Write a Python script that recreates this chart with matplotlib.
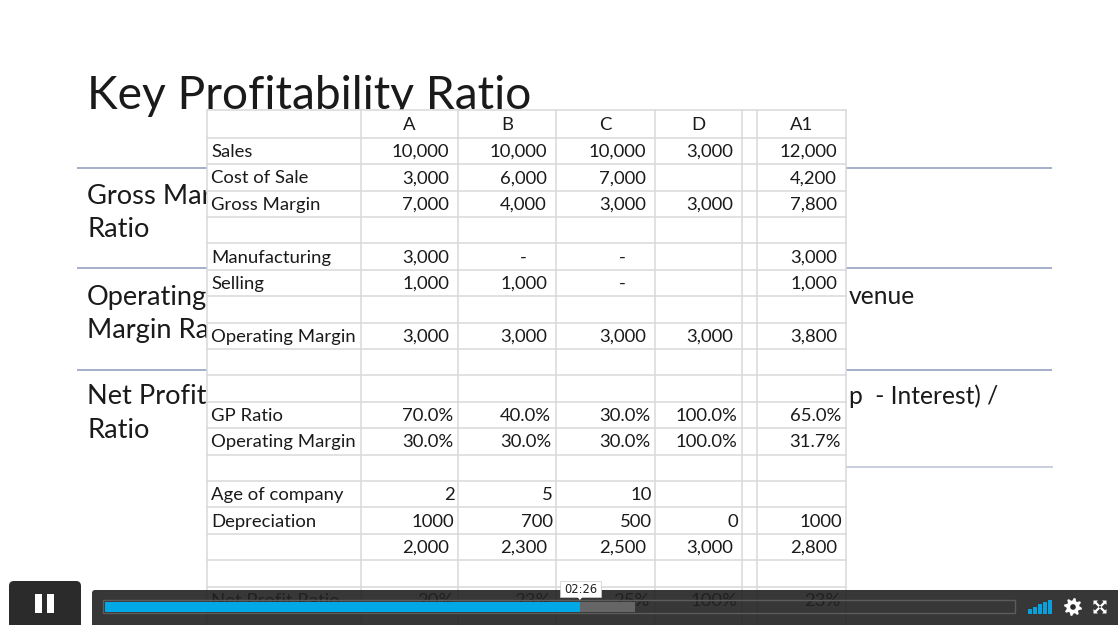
import numpy as np
import matplotlib
matplotlib.use("Agg")
import matplotlib.pyplot as plt
from matplotlib.patches import Rectangle, FancyBboxPatch, Polygon
from matplotlib.font_manager import FontProperties
from matplotlib.textpath import TextPath
from matplotlib.transforms import Bbox

# ---------------- data ----------------
title = "Key Profitability Ratio"
# visible parts of the slide text (the spreadsheet overlay hides the rest)
slide_left_text = [["Gross Mar", "Ratio"], ["Operating", "Margin Ra"], ["Net Profit", "Ratio"]]
slide_right_text = ["venue", "p  - Interest) /"]
columns = ["A", "B", "C", "D", "", "A1"]
row_labels = ["Sales", "Cost of Sale", "Gross Margin", "", "Manufacturing", "Selling", "",
              "Operating Margin", "", "", "GP Ratio", "Operating Margin", "",
              "Age of company", "Depreciation", "", "", "Net Profit Ratio"]
col_A = ["10,000", "3,000", "7,000", "", "3,000", "1,000", "", "3,000", "", "",
         "70.0%", "30.0%", "", "2", "1000", "2,000", "", "20%"]
col_B = ["10,000", "6,000", "4,000", "", "-", "1,000", "", "3,000", "", "",
         "40.0%", "30.0%", "", "5", "700", "2,300", "", "23%"]
col_C = ["10,000", "7,000", "3,000", "", "-", "-", "", "3,000", "", "",
         "30.0%", "30.0%", "", "10", "500", "2,500", "", "25%"]
col_D = ["3,000", "", "3,000", "", "", "", "", "3,000", "", "",
         "100.0%", "100.0%", "", "", "0", "3,000", "", "100%"]
col_E = [""] * 18
col_A1 = ["12,000", "4,200", "7,800", "", "3,000", "1,000", "", "3,800", "", "",
          "65.0%", "31.7%", "", "", "1000", "2,800", "", "23%"]
video_time = "02:26"
played_fraction = 0.523
buffered_fraction = 0.584
volume_levels = [1, 2, 3, 4, 5]

# ---------------- figure ----------------
W, H = 1118, 625
DPI = 100
FONT = "Lato"
fig = plt.figure(figsize=(W / DPI, H / DPI), dpi=DPI)
ax = fig.add_axes([0, 0, 1, 1])
ax.set_xlim(0, W)
ax.set_ylim(H, 0)
ax.axis("off")
fig.patch.set_facecolor("white")


def width_px(text, size, family=FONT, weight="normal"):
    tp = TextPath((0, 0), text, size=size, prop=FontProperties(family=family, weight=weight))
    return tp.get_extents().width * DPI / 72.0


def fit(text, target_px, family=FONT, weight="normal"):
    return 10.0 * target_px / width_px(text, 10.0, family, weight)


# ---------------- slide ----------------
TXT = "#1a1a1a"
title_size = fit(title, 438)
ax.text(87, 109, title, fontsize=title_size, family=FONT, color=TXT,
        va="baseline", ha="left", zorder=1)

body_size = fit("Net Profit", 117)
right_size = fit(slide_right_text[1], 147)
line_col = "#9ea8c6"
for y in [168, 268, 370]:
    ax.plot([77, 1052], [y, y], color=line_col, lw=1.3, zorder=1, solid_capstyle="butt")
ax.plot([846, 1052], [467, 467], color="#c4cadb", lw=1.3, zorder=1)

# clip region left of the spreadsheet (pixel coords -> display coords)
clip_bb = Bbox.from_extents(0, 0, 207, H)
left_baselines = [(204, 237), (305, 338), (404, 438)]
for (l1, l2), (b1, b2) in zip(slide_left_text, left_baselines):
    for s, b in ((l1, b1), (l2, b2)):
        t = ax.text(87, b, s, fontsize=body_size, family=FONT, color=TXT, va="baseline", zorder=1)
        t.set_clip_box(matplotlib.transforms.TransformedBbox(
            Bbox.from_extents(0, 0, 207.0, H), ax.transData))
        t.set_clip_on(True)
for txt, b in zip(slide_right_text, [304, 404]):
    ax.text(849, b, txt, fontsize=right_size, family=FONT, color=TXT, va="baseline", zorder=1)

# ---------------- spreadsheet overlay ----------------
col_edges = [207, 361, 458, 556, 655, 742, 757, 846]
top = 110.0
head_h = 27.8
row_h = 26.4
n_rows = len(row_labels)
ax.add_patch(Rectangle((col_edges[0], top), col_edges[-1] - col_edges[0], H - top,
                       facecolor="white", edgecolor="none", zorder=2))
grid_col = "#d9d9dd"
row_lines = [top, top + head_h] + [top + head_h + row_h * (k + 1) for k in range(n_rows)]
for y in row_lines:
    if y > H:
        continue
    ax.plot([col_edges[0], col_edges[-1]], [y, y], color=grid_col, lw=1.1, zorder=3)
for x in col_edges:
    ax.plot([x, x], [top, H], color=grid_col, lw=1.1, zorder=3)

table_size = fit("Operating Margin", 142)

for j, h in enumerate(columns):
    cx = (col_edges[j + 1] + col_edges[j + 2]) / 2
    ax.text(cx, top + head_h / 2 + 1, h, fontsize=table_size, family=FONT, color=TXT,
            ha="center", va="center", zorder=4)

values = [col_A, col_B, col_C, col_D, col_E, col_A1]


def pad(s):
    if s == "-":
        return 29
    if s.endswith("%"):
        return 5
    if "," in s:
        return 9
    return 3.5


for i, lab in enumerate(row_labels):
    cy = top + head_h + row_h * i + row_h / 2 + 1
    if lab:
        ax.text(211, cy, lab, fontsize=table_size, family=FONT, color=TXT,
                ha="left", va="center", zorder=4)
    for j, col in enumerate(values):
        s = col[i]
        if not s:
            continue
        xr = col_edges[j + 2] - pad(s)
        ax.text(xr, cy, s, fontsize=table_size, family=FONT, color=TXT,
                ha="right", va="center", zorder=4)

# ---------------- video controls ----------------
bar_col = (0.13, 0.13, 0.13, 0.9)
ax.add_patch(FancyBboxPatch((92, 590), W - 92 + 10, 40, boxstyle="round,pad=0,rounding_size=3",
                            facecolor=bar_col, edgecolor="none", zorder=10))
ax.add_patch(FancyBboxPatch((9, 581), 72, 50, boxstyle="round,pad=0,rounding_size=5",
                            facecolor="#2b2b2b", edgecolor="none", zorder=10))
ax.add_patch(Rectangle((35, 594), 7, 19, facecolor="white", edgecolor="none", zorder=11))
ax.add_patch(Rectangle((47, 594), 7, 19, facecolor="white", edgecolor="none", zorder=11))

tx0, tx1 = 103, 1015
ax.add_patch(Rectangle((tx0, 600), tx1 - tx0, 13, facecolor="none", edgecolor="#5c5c5c",
                       lw=1.0, zorder=11))
inner0, inner1 = tx0 + 1.5, tx1 - 1.5
span = inner1 - inner0
ax.add_patch(Rectangle((inner0, 601.5), span * buffered_fraction, 10, facecolor="#666666",
                       edgecolor="none", zorder=11))
ax.add_patch(Rectangle((inner0, 601.5), span * played_fraction, 10, facecolor="#00a8e6",
                       edgecolor="none", zorder=12))

px = inner0 + span * played_fraction
ax.add_patch(Rectangle((px - 19.5, 581), 41, 16, facecolor="white", edgecolor="#cccccc",
                       lw=0.5, zorder=13))
ax.add_patch(Polygon([[px - 3, 596.5], [px + 3, 596.5], [px, 600]], closed=True,
                     facecolor="white", edgecolor="none", zorder=13))
ax.text(px + 1, 589.5, video_time, fontsize=8.3, family="DejaVu Sans", color="#222222",
        ha="center", va="center", zorder=14)

for k, lvl in enumerate(volume_levels):
    h = 3 + lvl * 2.2
    ax.add_patch(Rectangle((1028 + k * 5, 614 - h), 3.5, h, facecolor="#0aa0dc",
                           edgecolor="none", zorder=11))

gx, gy = 1073, 607
n_teeth = 8
ang = np.linspace(0, 2 * np.pi, n_teeth * 4, endpoint=False) + np.pi / (n_teeth * 4)
rad = np.tile([9, 9, 6.5, 6.5], n_teeth)
gear = np.column_stack([gx + rad * np.cos(ang), gy + rad * np.sin(ang)])
ax.add_patch(Polygon(gear, closed=True, facecolor="white", edgecolor="none", zorder=11))
ax.add_patch(plt.Circle((gx, gy), 2.8, facecolor="#2a2a2a", edgecolor="none", zorder=12))

fx, fy = 1100, 607
for sx in (-1, 1):
    for sy in (-1, 1):
        tip = (fx + sx * 6.5, fy + sy * 6.5)
        tri = [[tip[0], tip[1]], [tip[0] - sx * 4.5, tip[1]], [tip[0], tip[1] - sy * 4.5]]
        ax.add_patch(Polygon(tri, closed=True, facecolor="white", edgecolor="none", zorder=11))
        ax.plot([fx + sx * 1.5, tip[0] - sx * 2], [fy + sy * 1.5, tip[1] - sy * 2],
                color="white", lw=1.6, zorder=11)

fig.savefig("out.png", dpi=DPI, facecolor="white")
